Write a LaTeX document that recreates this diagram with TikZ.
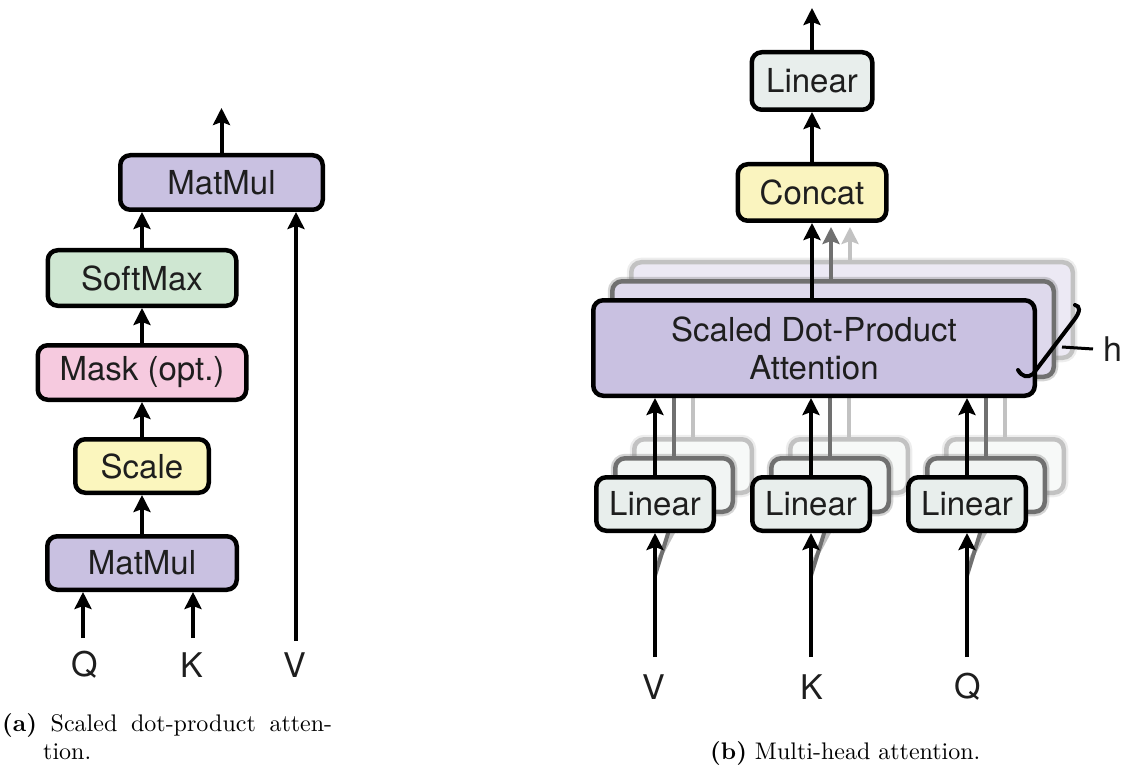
\documentclass[tikz,border=0pt]{standalone}
\usepackage{fontspec}
\newfontfamily\hv{TeX Gyre Heros}
\newfontfamily\capfont{lmroman10-regular}[Extension=.otf,BoldFont=lmroman10-bold]
\usetikzlibrary{arrows.meta}

\definecolor{mmfill}{HTML}{C9C1E1}
\definecolor{smfill}{HTML}{CFE7D2}
\definecolor{mkfill}{HTML}{F6CADF}
\definecolor{scfill}{HTML}{FBF6BE}
\definecolor{lnfill}{HTML}{E8EEEC}
\definecolor{ccfill}{HTML}{FAF4BF}
\definecolor{ink}{HTML}{1E1E1E}

\tikzset{
  box/.style={draw=black, line width=4.5pt, rounded corners=10pt, inner sep=0pt,
    font=\hv\fontsize{33}{38}\selectfont, text=ink},
  arr/.style={line width=4pt, -{Stealth[length=17pt,width=17pt,inset=3pt]}},
  lbl/.style={inner sep=0pt, font=\hv\fontsize{34}{38}\selectfont, text=ink},
  soft/.style={preaction={draw=#1, line width=9pt, draw opacity=0.3}},
  captext/.style={anchor=base west, inner sep=0pt, font=\capfont\fontsize{24}{29}\selectfont},
}

\begin{document}
\begin{tikzpicture}[x=1pt,y=-1pt]
\useasboundingbox (0,0) rectangle (1121,767);

% ---------------- (a) scaled dot-product attention ----------------
\node[box, fill=mmfill, minimum width=202.5pt, minimum height=54.5pt] (mmt) at (221.5,182.5) {MatMul};
\node[box, fill=smfill, minimum width=188.5pt, minimum height=55.5pt] (sm) at (142,278) {SoftMax};
\node[box, fill=mkfill, minimum width=208.5pt, minimum height=54.5pt] (mk) at (142,372.5) {Mask (opt.)};
\node[box, fill=scfill, minimum width=133.5pt, minimum height=53.5pt] (sc) at (142,466) {Scale};
\node[box, fill=mmfill, minimum width=189.5pt, minimum height=53.5pt] (mmb) at (142,563) {MatMul};

\node[lbl] (qa) at (85,665) {Q};
\node[lbl] (ka) at (192,665) {K};
\node[lbl] (va) at (295,665) {V};

\coordinate (outa) at (221.5,108);
\coordinate (qin) at (83,638);
\coordinate (kin) at (193,638);
\coordinate (vin) at (296,641);

\draw[arr] (mmt.north) -- (outa);
\draw[arr] (sm.north) -- (sm.north |- mmt.south);
\draw[arr] (mk.north) -- (sm.south);
\draw[arr] (sc.north) -- (mk.south);
\draw[arr] (mmb.north) -- (sc.south);
\draw[arr] (qin) -- (qin |- mmb.south);
\draw[arr] (kin) -- (kin |- mmb.south);
\draw[arr] (vin) -- (vin |- mmt.south);

% ---------------- (b) multi-head attention ----------------
\node[box, fill=lnfill, minimum width=120.5pt, minimum height=57.5pt] (lo) at (812,81) {Linear};
\node[box, fill=ccfill, minimum width=148.5pt, minimum height=56.5pt] (cc) at (812,192.5) {Concat};

% stacked copies of the heads, farthest first
\foreach \d/\s/\c/\f in {38/c/black!24/35, 19/b/black!56/62}{
  \foreach \x/\n/\y in {655/v/585, 811/k/585, 967/q/585}{
    \coordinate (diag\n\s) at (\x,{\y-\d*0.5});
    \draw[arr, color=\c] (diag\n\s) -- ({\x+\d},{533-\d});
  }
  \foreach \x/\n in {655/v, 811/k, 967/q}{
    \node[box, soft=\c, draw=\c, fill=lnfill!\f!white, minimum width=117.5pt, minimum height=53.5pt]
      (lin\n\s) at ({\x+\d},{504-\d}) {};
  }
  \node[box, soft=\c, draw=\c, fill=mmfill!\f!white, minimum width=441.5pt, minimum height=95.5pt]
    (sdpa\s) at ({814+\d},{348-\d}) {};
  \foreach \n in {v,k,q}{
    \draw[arr, color=\c] (lin\n\s.north) -- (lin\n\s.north |- sdpa\s.south);
  }
  \draw[arr, color=\c] ([xshift=-2pt]sdpa\s.north) -- ([xshift=-2pt,yshift=-4pt]sdpa\s.north |- cc.south);
}

% front head
\node[box, fill=lnfill, minimum width=117.5pt, minimum height=53.5pt] (linv) at (655,504) {Linear};
\node[box, fill=lnfill, minimum width=117.5pt, minimum height=53.5pt] (link) at (811,504) {Linear};
\node[box, fill=lnfill, minimum width=117.5pt, minimum height=53.5pt] (linq) at (967,504) {Linear};
\node[box, fill=mmfill, minimum width=441.5pt, minimum height=95.5pt, align=center]
  (sdpa) at (814,348) {Scaled Dot-Product\\Attention};

\draw[arr] (linv.north) -- (linv.north |- sdpa.south);
\draw[arr] (link.north) -- (link.north |- sdpa.south);
\draw[arr] (linq.north) -- (linq.north |- sdpa.south);
\draw[arr] (cc.south |- sdpa.north) -- (cc.south);
\draw[arr] (cc.north) -- (lo.south);
\coordinate (outb) at (812,8);
\draw[arr] (lo.north) -- (outb);

\node[lbl] (vb) at (654,687) {V};
\node[lbl] (kb) at (812,687) {K};
\node[lbl] (qb) at (968,687) {Q};
\coordinate (vbin) at (655,657);
\coordinate (kbin) at (811,657);
\coordinate (qbin) at (967,657);
\draw[arr] (vbin) -- (linv.south);
\draw[arr] (kbin) -- (link.south);
\draw[arr] (qbin) -- (linq.south);

% head-count bracket
\draw[line width=4pt, line cap=round]
  (1018,370) .. controls (1022,377) and (1028,378) .. (1033,374)
  -- (1074,320) .. controls (1081,311) and (1080,306) .. (1075,305);
\node[lbl, anchor=west] (hb) at (1103,349) {h};
\coordinate (htick) at (1062,347);
\draw[line width=3pt] (htick) -- ([xshift=-10pt]hb.west);

% ---------------- captions ----------------
\node[captext] (capa) at (2,731) {\makebox[330pt][s]{\textbf{(a)} Scaled dot-product atten-}};
\node[captext] (capa2) at (43,759) {tion.};
\node[captext] (capb) at (710,759) {\textbf{(b)} Multi-head attention.};
\end{tikzpicture}
\end{document}
